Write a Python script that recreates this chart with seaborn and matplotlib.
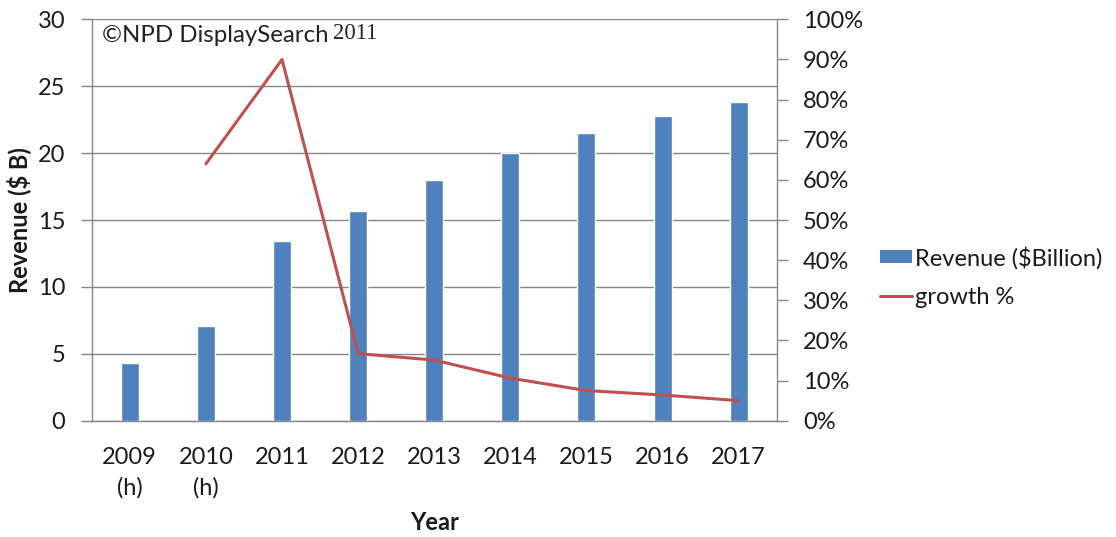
import matplotlib
matplotlib.use("Agg")
import matplotlib.pyplot as plt
import seaborn as sns
import pandas as pd
import numpy as np
from matplotlib.ticker import FuncFormatter
from matplotlib.patches import Patch
from matplotlib.lines import Line2D

years = ["2009\n(h)", "2010\n(h)", "2011", "2012", "2013", "2014", "2015", "2016", "2017"]
revenue = [4.3, 7.1, 13.45, 15.7, 18.0, 20.0, 21.5, 22.8, 23.85]
growth = [np.nan, 64.0, 90.0, 16.7, 15.1, 10.6, 7.5, 6.4, 5.0]

sns.set_theme(style="white")
plt.rcParams['font.family'] = ['Lato', 'DejaVu Sans']

BLUE = "#4F81BD"
RED = "#C0504D"
GRID = "#868686"
TXT = "#1a1a1a"
FS = 17

df = pd.DataFrame({"year": years, "revenue": revenue, "growth": growth})
df["pos"] = range(len(years))

fig = plt.figure(figsize=(11.16, 5.37), dpi=100)
ax = fig.add_axes([0.0822, 0.2166, 0.6138, 0.7474])

sns.barplot(data=df, x="year", y="revenue", color=BLUE, width=0.237,
            saturation=1, ax=ax)
ax.set_ylim(0, 30)
ax.set_yticks(range(0, 31, 5))
ax.set_xlim(-0.5, len(years) - 0.5)
ax.yaxis.grid(True, color=GRID, linewidth=1)
ax.set_axisbelow(True)
for s in ["top", "right"]:
    ax.spines[s].set_visible(False)
for s in ["left", "bottom"]:
    ax.spines[s].set_color(GRID)
    ax.spines[s].set_linewidth(1)
ax.tick_params(axis="y", length=8, width=1, color=GRID, labelsize=FS, pad=11,
               left=True, labelcolor=TXT)
ax.tick_params(axis="x", length=0, labelsize=FS, pad=19, labelcolor=TXT)
for lbl in ax.get_xticklabels():
    lbl.set_linespacing(1.5)
    lbl.set_verticalalignment("top")
ax.set_xlabel("Year", fontsize=FS, fontweight="bold", labelpad=9, color=TXT)
ax.set_ylabel("Revenue ($ B)", fontsize=FS, fontweight="bold", labelpad=5, color=TXT)

ax2 = ax.twinx()
gdf = df.dropna()
sns.lineplot(data=gdf, x="pos", y="growth", color=RED, linewidth=2.2, ax=ax2,
             legend=False)
ax2.set_ylim(0, 100)
ax2.set_yticks(range(0, 101, 10))
ax2.yaxis.set_major_formatter(FuncFormatter(lambda v, p: f"{int(v)}%"))
ax2.set_ylabel("")
ax2.set_xlabel("")
ax2.set_xlim(-0.5, len(years) - 0.5)
for s in ["top", "left", "bottom"]:
    ax2.spines[s].set_visible(False)
ax2.spines["right"].set_color(GRID)
ax2.spines["right"].set_linewidth(1)
ax2.tick_params(axis="y", length=8, width=1, color=GRID, labelsize=FS, pad=11,
                right=True, labelcolor=TXT)
ax2.grid(False)

t1 = ax.text(0.015, 0.985, "\u00a9NPD DisplaySearch", transform=ax.transAxes,
             fontsize=17.3, va="top", ha="left", color="#222222")
ax.annotate("2011", xy=(1, 0.12), xycoords=t1, xytext=(3, 0),
            textcoords="offset points", family="Liberation Serif",
            fontsize=16.3, va="bottom", ha="left", color="#222222")

handles = [Patch(facecolor=BLUE, edgecolor="none"),
           Line2D([], [], color=RED, linewidth=2.2)]
labels = ["Revenue ($Billion)", "growth %"]
fig.legend(handles, labels, loc="center left", bbox_to_anchor=(0.7778, 0.4842),
           frameon=False, fontsize=FS, handlelength=1.36, handleheight=0.5,
           handletextpad=0.15, labelspacing=0.75, borderpad=0, labelcolor=TXT)

fig.savefig("out.png", dpi=100)
